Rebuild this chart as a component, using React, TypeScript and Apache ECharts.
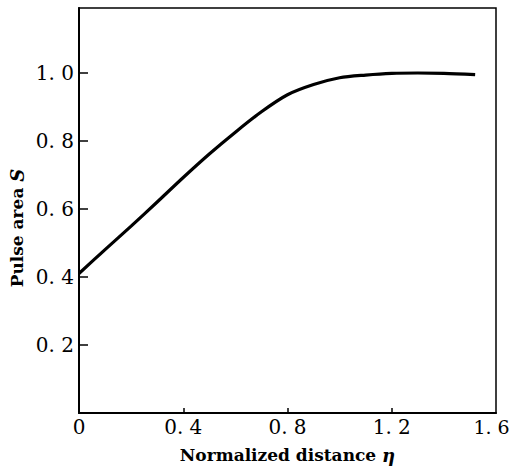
import React, { useEffect, useRef } from "react";
import * as echarts from "echarts";

const etaValues = [0, 0.1, 0.2, 0.3, 0.4, 0.5, 0.6, 0.7, 0.8, 0.9, 1.0, 1.1, 1.2, 1.3, 1.4, 1.52];
const pulseArea = [0.41, 0.48, 0.549, 0.62, 0.692, 0.761, 0.825, 0.885, 0.935, 0.965, 0.985, 0.993, 0.998, 0.999, 0.998, 0.994];
const xTicks = [0, 0.4, 0.8, 1.2, 1.6];
const yTicks = [0.2, 0.4, 0.6, 0.8, 1.0];

const FONT = "'DejaVu Serif', 'Liberation Serif', serif";

function fmt(v: number): string {
  if (Math.abs(v) < 1e-9) return "0";
  return v.toFixed(1).replace(".", ". ");
}

export default function App() {
  const ref = useRef<HTMLDivElement>(null);
  useEffect(() => {
    if (!ref.current) return;
    const chart = echarts.init(ref.current, undefined, { renderer: "svg" });
    chart.setOption({
      animation: false,
      backgroundColor: "#ffffff",
      grid: {
        left: 79,
        right: 16,
        top: 8,
        bottom: 55,
        outerBoundsMode: "none",
        containLabel: false,
        show: true,
        borderColor: "#000",
        borderWidth: 1.5,
        backgroundColor: "transparent",
      },
      graphic: [
        {
          type: "text",
          x: 17,
          y: 228,
          rotation: Math.PI / 2,
          style: {
            text: "Pulse area {i|S}",
            align: "center",
            verticalAlign: "middle",
            fontFamily: FONT,
            fontSize: 17,
            fontWeight: "bold",
            fill: "#000",
            rich: {
              i: { fontFamily: FONT, fontSize: 18, fontStyle: "italic", fontWeight: "bold", fill: "#000" },
            },
          },
        },
      ],
      xAxis: {
        type: "value",
        min: 0,
        max: 1.6,
        interval: 0.4,
        name: "Normalized distance {i|η}",
        nameLocation: "middle",
        nameGap: 33,
        nameTextStyle: {
          fontFamily: FONT,
          fontSize: 17,
          fontWeight: "bold",
          color: "#000",
          rich: {
            i: { fontFamily: FONT, fontSize: 18, fontStyle: "italic", fontWeight: "bold", color: "#000" },
          },
        },
        axisLine: { show: true, lineStyle: { color: "#000", width: 2 } },
        axisTick: {
          show: true,
          inside: true,
          length: 5,
          lineStyle: { color: "#000", width: 1.5 },
          customValues: xTicks.slice(1, -1),
        },
        axisLabel: {
          fontFamily: FONT,
          fontSize: 20,
          color: "#000",
          margin: 4,
          hideOverlap: false,
          customValues: xTicks,
          formatter: (v: number) => (v > 1.55 ? "{e|" + fmt(v) + "}" : fmt(v)),
          rich: {
            e: { fontFamily: FONT, fontSize: 19, color: "#000", padding: [0, 9, 0, 0] },
          },
        },
        splitLine: { show: false },
      },
      yAxis: {
        type: "value",
        min: 0,
        max: 1.19,
        interval: 0.2,
        axisLine: { show: true, lineStyle: { color: "#000", width: 2 } },
        axisTick: {
          show: true,
          inside: true,
          length: 9,
          lineStyle: { color: "#000", width: 1.5 },
          customValues: yTicks,
        },
        axisLabel: {
          fontFamily: FONT,
          fontSize: 20,
          color: "#000",
          margin: 5,
          customValues: yTicks,
          formatter: (v: number) => fmt(v),
        },
        splitLine: { show: false },
      },
      series: [
        {
          type: "line",
          data: etaValues.map((x, i) => [x, pulseArea[i]]),
          smooth: 0.3,
          showSymbol: false,
          lineStyle: { color: "#000", width: 3.2 },
        },
      ],
    });
    return () => chart.dispose();
  }, []);
  return (
    <div
      ref={ref}
      style={{ position: "fixed", left: 0, top: 0, width: 512, height: 468, background: "#fff" }}
    />
  );
}
